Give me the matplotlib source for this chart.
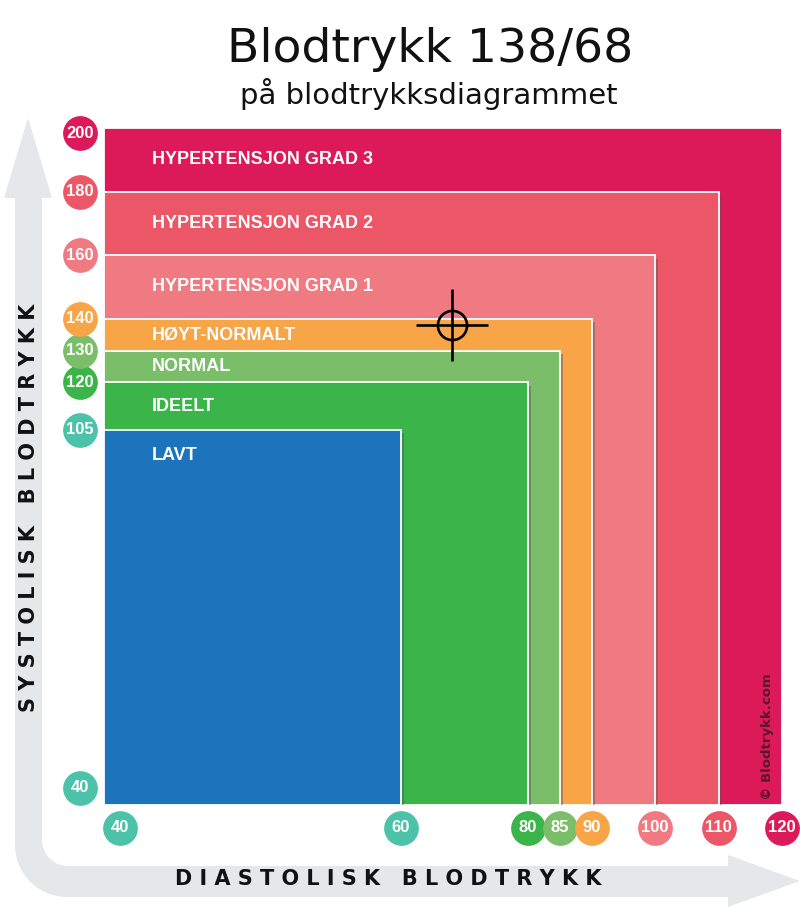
import matplotlib
matplotlib.use("Agg")
import matplotlib.pyplot as plt
import matplotlib.patheffects as pe
import matplotlib.transforms as mtrans
import numpy as np

# blood pressure categories (outermost first)
categories = ['HYPERTENSJON GRAD 3', 'HYPERTENSJON GRAD 2', 'HYPERTENSJON GRAD 1',
              'HØYT-NORMALT', 'NORMAL', 'IDEELT', 'LAVT']
systolic_max = [200, 180, 160, 140, 130, 120, 105]
diastolic_max = [120, 110, 100, 90, 85, 80, 60]
colors = ['#DC1A5A', '#EC5768', '#F07A81', '#F7A547', '#7BBE6A', '#3BB54A', '#1C75BC']

sys_ticks = [40, 105, 120, 130, 140, 160, 180, 200]
sys_tick_colors = ['#4CC3A9', '#4CC3A9', '#3BB54A', '#7BBE6A', '#F7A547', '#F07A81', '#EC5768', '#DC1A5A']
dia_ticks = [40, 60, 80, 85, 90, 100, 110, 120]
dia_tick_colors = ['#4CC3A9', '#4CC3A9', '#3BB54A', '#7BBE6A', '#F7A547', '#F07A81', '#EC5768', '#DC1A5A']

reading_sys = 138
reading_dia = 68

NARROW = ['Liberation Sans Narrow', 'Liberation Sans', 'DejaVu Sans']


def piecewise(src, dst):
    src = np.asarray(src, float)
    dst = np.asarray(dst, float)

    def build(a, b):
        s_lo = (b[1] - b[0]) / (a[1] - a[0])
        s_hi = (b[-1] - b[-2]) / (a[-1] - a[-2])

        def f(v):
            v = np.asarray(v, float)
            out = np.interp(v, a, b)
            out = np.where(v < a[0], b[0] + (v - a[0]) * s_lo, out)
            out = np.where(v > a[-1], b[-1] + (v - a[-1]) * s_hi, out)
            return out
        return f
    return build(src, dst), build(dst, src)


fig = plt.figure(figsize=(8, 9.08), dpi=100)

# background L-shaped arrow (pixel coords)
bg = fig.add_axes([0, 0, 1, 1], zorder=0)
bg.set_xlim(0, 800)
bg.set_ylim(908, 0)
bg.axis('off')
outer_r, inner_r = 52, 26
cx_o, cy_o = 15 + outer_r, 897 - outer_r
cx_i, cy_i = 42 + inner_r, 866 - inner_r
pts = [(28, 118), (52, 198), (42, 198)]
pts += [(cx_i + inner_r * np.cos(a), cy_i + inner_r * np.sin(a)) for a in np.linspace(np.pi, np.pi / 2, 20)]
pts += [(728, 866), (728, 855), (800, 881), (728, 907), (728, 897)]
pts += [(cx_o + outer_r * np.cos(a), cy_o + outer_r * np.sin(a)) for a in np.linspace(np.pi / 2, np.pi, 20)]
pts += [(15, 198), (4, 198)]
bg.add_patch(plt.Polygon(pts, closed=True, facecolor='#E6E7E8', edgecolor='none'))

bg.text(29, 508, ' '.join('SYSTOLISK') + '   ' + ' '.join('BLODTRYKK'),
        rotation=90, ha='center', va='center', fontsize=15, fontweight='heavy', color='#111111')
bg.text(388, 879, ' '.join('DIASTOLISK') + '   ' + ' '.join('BLODTRYKK'),
        ha='center', va='center', fontsize=15, fontweight='heavy', color='#111111')

bg.text(430, 62, 'Blodtrykk 138/68', ha='center', va='baseline', fontsize=34, color='#111111')
bg.text(429, 104, 'på blodtrykksdiagrammet', ha='center', va='baseline', fontsize=21, color='#111111')

# main chart
ax = fig.add_axes([104 / 800, 103 / 908, 678 / 800, 677 / 908], zorder=1)
ax.patch.set_alpha(0)
fx = piecewise([40, 60, 120], [0, 297, 678])
fy = piecewise([40, 105, 200], [0, 375, 677])
ax.set_xscale('function', functions=fx)
ax.set_yscale('function', functions=fy)
ax.set_xlim(40, 120)
ax.set_ylim(40, 200)
ax.set_xticks([])
ax.set_yticks([])
for s in ax.spines.values():
    s.set_visible(False)

shadow = [pe.SimplePatchShadow(offset=(2.5, -2.5), shadow_rgbFace='#555555', alpha=0.45), pe.Normal()]
for i, (name, s, d, c) in enumerate(zip(categories, systolic_max, diastolic_max, colors)):
    bars = ax.bar(40, s - 40, width=d - 40, bottom=40, align='edge', color=c,
                  edgecolor='white', linewidth=1.3, zorder=2 + i)
    for b in bars:
        b.set_path_effects(shadow)
    if i + 1 < len(systolic_max):
        ly = (s + systolic_max[i + 1]) / 2
    else:
        ly = s - 4.5
    tr = mtrans.offset_copy(mtrans.blended_transform_factory(ax.transAxes, ax.transData),
                            fig=fig, x=48, y=0, units='dots')
    ax.text(0, ly, name, transform=tr, ha='left', va='center', color='white',
            fontsize=13, fontweight='bold', family=NARROW, zorder=20)

# copyright
ax.text(0.978, 0.008, '© Blodtrykk.com', transform=ax.transAxes, rotation=90,
        ha='center', va='bottom', fontsize=9.5, fontweight='bold', color='#5A1530', zorder=20)

# reading marker
ax.plot(reading_dia, reading_sys, marker='o', markersize=21, fillstyle='none',
        markeredgewidth=1.9, color='black', zorder=30)
ax.plot(reading_dia, reading_sys, marker='+', markersize=52,
        markeredgewidth=1.9, color='black', zorder=30)

# tick circles
ynudge = {40: 17, 200: -5}
xnudge = {40: 16}
for v, c in zip(sys_ticks, sys_tick_colors):
    tr = mtrans.offset_copy(mtrans.blended_transform_factory(ax.transAxes, ax.transData),
                            fig=fig, x=-24, y=ynudge.get(v, 0), units='dots')
    ax.plot(0, v, marker='o', markersize=24, color=c, transform=tr, clip_on=False, zorder=40)
    ax.text(0, v, str(v), transform=tr, ha='center', va='center', color='white',
            fontsize=12, fontweight='bold', family=NARROW, clip_on=False, zorder=41)
for v, c in zip(dia_ticks, dia_tick_colors):
    tr = mtrans.offset_copy(mtrans.blended_transform_factory(ax.transData, ax.transAxes),
                            fig=fig, x=xnudge.get(v, 0), y=-23, units='dots')
    ax.plot(v, 0, marker='o', markersize=24, color=c, transform=tr, clip_on=False, zorder=40)
    ax.text(v, 0, str(v), transform=tr, ha='center', va='center', color='white',
            fontsize=12, fontweight='bold', family=NARROW, clip_on=False, zorder=41)

fig.savefig('out.png', dpi=100)
